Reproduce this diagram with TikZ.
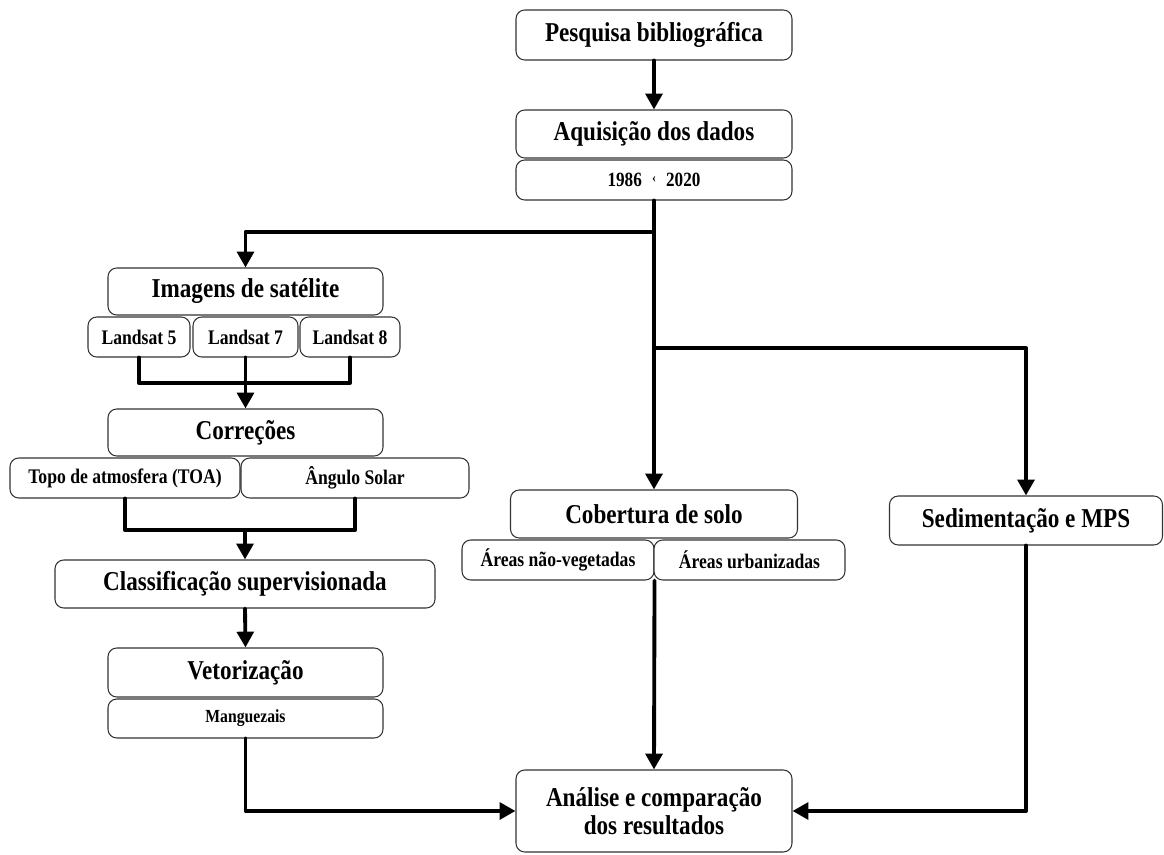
\documentclass[tikz,border=0pt]{standalone}
\usepackage{fontspec}
\setmainfont{Liberation Serif}[FakeStretch=0.85]
\usetikzlibrary{arrows.meta}

\begin{document}
\begin{tikzpicture}[x=0.02cm,y=-0.02cm,
        caixa/.style={draw=black!80, line width=0.6pt, rounded corners=5pt, fill=white,
            inner sep=0pt, align=center, font=\fontsize{15.5}{16}\selectfont\bfseries},
        sub/.style={caixa, font=\fontsize{11.8}{12}\selectfont\bfseries},
        mini/.style={caixa, font=\fontsize{10.5}{11}\selectfont\bfseries},
        tam/.style 2 args={minimum width=#1*0.02cm, minimum height=#2*0.02cm},
        linha/.style={line width=2.2pt, line cap=round, line join=round},
        seta/.style={linha, -{Triangle[length=9pt,width=9.5pt]}}]

        \useasboundingbox (0,0) rectangle (1164,855);

        % central column
        \node[caixa, tam={276}{50}] (pesq) at (654,35) {Pesquisa bibliográfica};
        \node[caixa, tam={276}{48}] (aquis) at (654,134) {Aquisição dos dados};
        \node[mini, tam={276}{40}] (anos) at (654,180) {\fontsize{11.5}{12}\selectfont 1986\enspace\raisebox{0.4ex}{\footnotesize ‹}\enspace2020};

        % satellite images
        \node[caixa, tam={275}{47}] (imag) at (245.5,291.5) {Imagens de satélite};
        \node[sub, tam={102}{40}] (l5) at (139,337) {Landsat 5};
        \node[sub, tam={105}{40}] (l7) at (245.5,337) {Landsat 7};
        \node[sub, tam={100}{40}] (l8) at (350,337) {Landsat 8};

        % corrections
        \node[caixa, tam={275}{47}] (corr) at (245.5,432.5) {Correções};
        \node[sub, tam={230}{40}] (toa) at (125,478) {Topo de atmosfera (TOA)};
        \node[sub, tam={228}{40}] (ang) at (355,478) {Ângulo Solar};

        % classification
        \node[caixa, tam={380}{48}] (clas) at (245,584) {Classificação supervisionada};
        \node[caixa, tam={275}{49}] (veto) at (245.5,672.5) {Vetorização};
        \node[mini, tam={275}{39}] (mang) at (245.5,718.5) {Manguezais};

        % land cover
        \node[caixa, tam={287}{48}] (cob) at (654,514) {Cobertura de solo};
        \node[sub, tam={192}{40}] (anv) at (558,560) {Áreas não-vegetadas};
        \node[sub, tam={191}{40}] (aurb) at (749.5,560) {Áreas urbanizadas};

        % sedimentation
        \node[caixa, tam={273}{49}] (sed) at (1026,520.5) {Sedimentação e MPS};

        % results
        \node[caixa, tam={276}{82}] (anal) at (654,811) {Análise e comparação\\dos resultados};

        % junctions
        \coordinate (j1) at (654,232);
        \coordinate (j2) at (654,348);
        \coordinate (jl) at (245.5,383);
        \coordinate (jt) at (245,530);

        % arrows
        \draw[seta] (pesq) -- (aquis);
        \draw[linha] (anos.south) -- (j2);
        \draw[seta] (j1) -| (imag.north);
        \draw[seta] (j2) -- (cob.north);
        \draw[seta] (j2) -| (sed.north);

        \draw[seta] (l7.south) -- (corr.north);
        \draw[linha] (l5.south) |- (jl) -| (l8.south);

        \draw[linha] (toa.south) |- (jt) -| (ang.south);
        \draw[seta] (jt) -- (clas.north);
        \draw[seta] (clas.south) -- (veto.north);

        \draw[seta] (mang.south) |- (anal.west);
        \draw[seta] (anv.south east) -- (anal.north);
        \draw[seta] (sed.south) |- (anal.east);
    \end{tikzpicture}
\end{document}
